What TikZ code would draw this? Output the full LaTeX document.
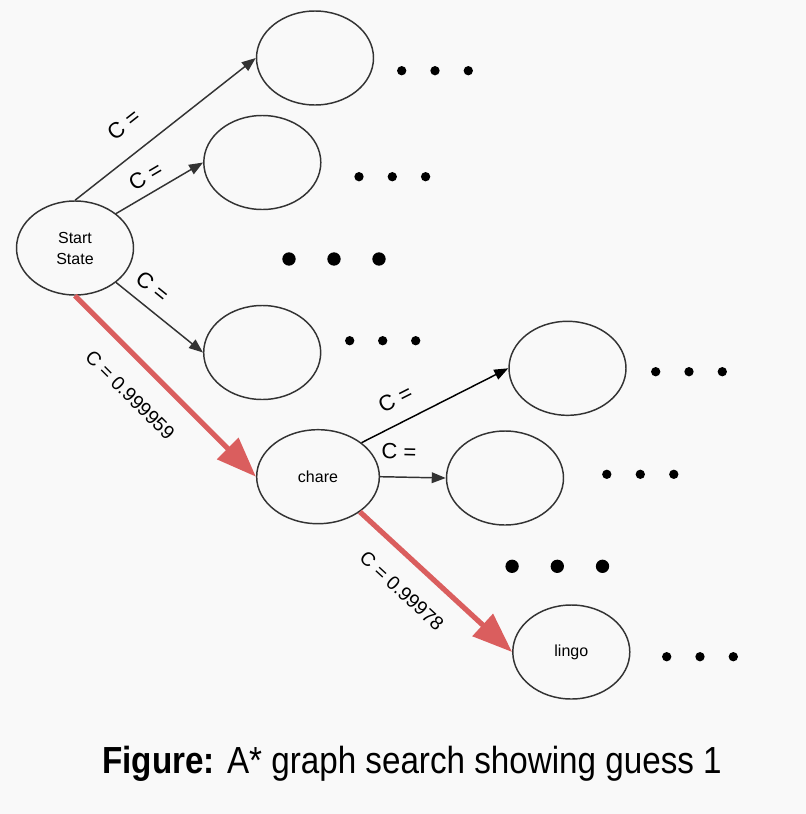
\documentclass[tikz,border=0pt]{standalone}
\usepackage{fontspec}
\setmainfont{Liberation Sans}
\newfontfamily\capfont[FakeStretch=0.88]{Liberation Sans}
\usetikzlibrary{shapes.geometric,arrows.meta}
\definecolor{bgGray}{RGB}{249,249,249}
\definecolor{lineGray}{RGB}{51,51,51}
\definecolor{pathRed}{RGB}{218,94,94}
\begin{document}
\begin{tikzpicture}
        [x=0.75pt, y=-0.75pt,
        state/.style={ellipse, draw=lineGray, line width=1.1pt, minimum width=87.75pt, minimum height=70.5pt, inner sep=0pt, align=center, font=\fontsize{12}{15.75}\selectfont},
        edge/.style={line width=1.1pt, lineGray, -{Triangle[length=10.5pt, width=8pt]}},
        bestEdge/.style={line width=3.9pt, pathRed, -{Triangle[length=30pt, width=22pt]}},
        cost/.style={sloped, inner sep=0pt, text=black, font=\fontsize{16.5}{18}\selectfont},
        bestCost/.style={sloped, inner sep=0pt, text=black, font=\fontsize{14.5}{16}\selectfont}]
        \fill[bgGray] (0,0) rectangle (806,814);
        \useasboundingbox (0,0) rectangle (806,814);

        \node[state] (S) at (75,248) {Start\\State};
        \node[state] (A) at (315,58) {};
        \node[state] (B) at (262.3,162.5) {};
        \node[state] (C) at (262.2,352.5) {};
        \node[state, minimum width=92pt] (chare) at (318,476.7) {chare};
        \node[state] (D) at (567.5,368.3) {};
        \node[state] (E) at (505,478) {};
        \node[state] (lingo) at (571.3,652) {lingo};

        \draw[edge] (S.north) -- node[cost, pos=0.37, above=15.75pt] (cA) {C =} (A.west);
        \draw[edge] (S.40) -- node[cost, pos=0.443, above=6.8pt] (cB) {C =} (B.west);
        \draw[edge] (S.-40) -- node[cost, pos=0.277, above=8.4pt] (cC) {C =} (C.west);
        \draw[bestEdge] (S.south) -- node[bestCost, pos=0.427, below=16.4pt] (cS) {C = 0.999959} (chare.west);

        \draw[edge, black] (chare.38) -- node[cost, pos=0.305, above=11.8pt] (cD) {C =} (D.west);
        \draw[edge] (chare.east) -- node[cost, pos=0.28, above=12.75pt] (cE) {C =} (E.west);
        \draw[bestEdge] (chare.-40) -- node[bestCost, pos=0.408, below=15.25pt] (cL) {C = 0.99978} (lingo.west);

        % more states not shown
        \foreach \cx/\cy/\dx/\r in {435/70.7/33.3/3.5, 392.3/176.7/33.3/3.5, 334/259/45/5, 382.7/340.7/33/3.5,
                689/371.7/33.3/3.5, 640.3/474.3/33.5/3.5, 557.3/566.3/45.2/5, 700/656.7/33.3/3.5}
            \foreach \k in {-1,0,1}
                \fill (\cx+\k*\dx,\cy) circle[radius=\r pt];

        \node[anchor=base, inner sep=0pt, font=\capfont\fontsize{28.3}{30}\selectfont] (caption) at (412,773.3) {\textbf{Figure:} A* graph search showing guess 1};
    \end{tikzpicture}
\end{document}
